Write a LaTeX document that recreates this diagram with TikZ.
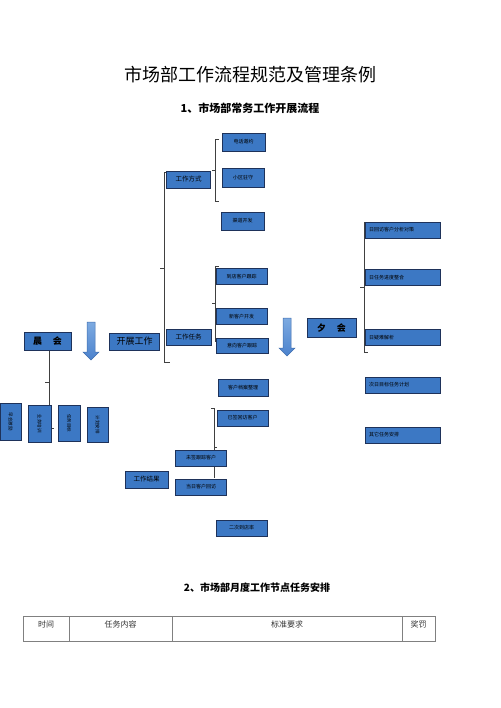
\documentclass[tikz,border=0pt]{standalone}
\usepackage{fontspec}
\setmainfont{Noto Sans CJK SC}
\usetikzlibrary{backgrounds}
\definecolor{boxblue}{RGB}{60,120,196}
\definecolor{boxline}{RGB}{30,50,90}
\definecolor{arrowtop}{RGB}{125,170,225}
\definecolor{arrowbot}{RGB}{75,130,205}
\newcommand\fsz[1]{\fontsize{#1}{#1}\selectfont}
\tikzset{
  box/.style={draw=boxline,fill=boxblue,line width=0.6pt,inner sep=0pt,font=\fsz{5}},
  mainbox/.style={box,font=\fsz{6.5}},
  bigbox/.style={box,font=\fsz{9}},
  sidebox/.style={box,minimum width=75pt,minimum height=16pt,text width=68pt,align=left},
  upright/.style={box,font=\fsz{4.5},rotate=-90},
  brace/.style={draw=black!75,line width=0.6pt},
  downarrow/.style={draw=arrowbot!85!black,line width=0.5pt,top color=arrowtop,bottom color=arrowbot},
  cell/.style={draw=black!50,line width=0.8pt,minimum height=25pt,inner sep=0pt},
  celltext/.style={font=\fsz{8},text=black!80}
}
\begin{document}
\begin{tikzpicture}[x=1pt,y=-1pt]
\useasboundingbox (0,0) rectangle (500,708);
\node [font=\fsz{18}] (title) at (250,75) {市场部工作流程规范及管理条例};
\node [font=\fsz{11}\bfseries] (part1) at (250,108) {1、市场部常务工作开展流程};
\node [font=\fsz{10}\bfseries] (part2) at (257,588) {2、市场部月度工作节点任务安排};

\node [bigbox,font=\fsz{9}\bfseries,minimum width=47pt,minimum height=18pt] (morning) at (47.5,341) {晨\hspace{1.2em}会};
\node [bigbox,minimum width=50pt,minimum height=17pt] (work) at (134.5,341.5) {开展工作};
\node [bigbox,font=\fsz{9}\bfseries,minimum width=49pt,minimum height=19pt] (evening) at (331.5,328) {夕\hspace{1.2em}会};

\node [mainbox,minimum width=44pt,minimum height=17pt] (way) at (188.5,179.5) {工作方式};
\node [mainbox,minimum width=45pt,minimum height=16pt] (task) at (188.5,337.5) {工作任务};
\node [mainbox,minimum width=43pt,minimum height=17pt] (result) at (146.5,479.5) {工作结果};

\node [box,minimum width=43pt,minimum height=18pt] (wayphone) at (243.5,142) {电话邀约};
\node [box,minimum width=42pt,minimum height=19pt] (waycomm) at (243,177.5) {小区驻守};
\node [box,minimum width=43pt,minimum height=18pt] (waychan) at (242.5,221) {渠道开发};

\node [box,minimum width=51pt,minimum height=16pt] (taskvisit) at (241.5,276.5) {到店客户跟踪};
\node [box,minimum width=51pt,minimum height=16pt] (tasknew) at (241.5,316.5) {新客户开发};
\node [box,minimum width=52pt,minimum height=15pt] (taskint) at (242,346) {意向客户跟踪};
\node [box,minimum width=50pt,minimum height=17pt] (resfile) at (243,387.5) {客户档案整理};
\node [box,minimum width=51pt,minimum height=16pt] (ressigned) at (242.5,418) {已签回访客户};
\node [box,minimum width=51pt,minimum height=16pt] (resopen) at (201,458) {未签跟踪客户};
\node [box,minimum width=51pt,minimum height=16pt] (resday) at (201,487) {当日客户回访};
\node [box,minimum width=51pt,minimum height=16pt] (resrate) at (241.5,528) {二次到店率};

\node [sidebox] (evanalyse) at (403,230) {日回访客户分析对策};
\node [sidebox] (evprogress) at (403,277.5) {日任务进度整合};
\node [sidebox] (evissue) at (403,337.5) {日疑难解析};
\node [sidebox] (evplan) at (403,385) {次日目标任务计划};
\node [sidebox] (evother) at (403,435) {其它任务安排};

\node [upright,minimum width=37pt,minimum height=21pt] (mcheer) at (10.5,421.5) {早会激励};
\node [upright,minimum width=37pt,minimum height=23pt] (mtrain) at (39.5,423.5) {业务培训};
\node [upright,minimum width=36pt,minimum height=22pt] (mgoal) at (69,423) {任务目标};
\node [upright,minimum width=35pt,minimum height=21pt] (mplan) at (97.5,424.5) {计划安排};

\begin{scope}[on background layer]
\draw [brace] (168,172) -- (164,172) -- (164,362) -- (170,362) (164,268) -- (160,268);
\draw [brace] (219,139) -- (215,139) -- (215,201) -- (219,201) (215,170) -- (212,170);
\draw [brace] (219,266) -- (215,266) -- (215,341) -- (219,341) (215,303) -- (212,303);
\draw [brace] (211,408) -- (214,408) -- (214,478) (214,447) -- (217,447);
\draw [brace] (368,222) -- (364,222) -- (364,352) -- (368,352) (364,287) -- (360,287);
\draw [brace] ([xshift=1.5pt]morning.south) -- (49,441) (49,382) -- (45,382) (49,428) -- (54,428);
\end{scope}

\shadedraw [downarrow] (87,322) -- (95,322) -- (95,352) -- (99,352) -- (91,360) -- (83,352) -- (87,352) -- cycle;
\shadedraw [downarrow] (283,318) -- (291,318) -- (291,348) -- (295,348) -- (287,356) -- (279,348) -- (283,348) -- cycle;

\node [cell,minimum width=46pt] (ctime) at (46,628.5) {};
\node [cell,minimum width=103pt] (ctask) at (120.5,628.5) {};
\node [cell,minimum width=230pt] (cstd) at (287,628.5) {};
\node [cell,minimum width=33pt] (caward) at (418.5,628.5) {};
\node [celltext] at ([yshift=4pt]ctime.center) {时间};
\node [celltext] at ([yshift=4pt]ctask.center) {任务内容};
\node [celltext] at ([yshift=4pt]cstd.center) {标准要求};
\node [celltext] at ([yshift=4pt]caward.center) {奖罚};
\end{tikzpicture}
\end{document}
